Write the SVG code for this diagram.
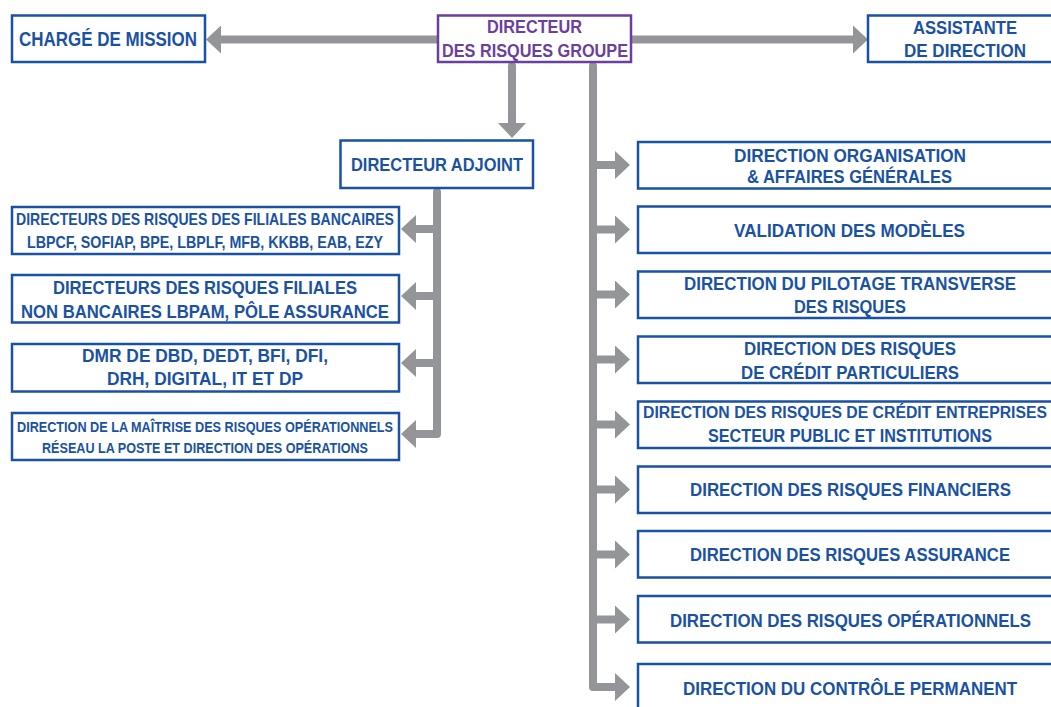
<svg xmlns="http://www.w3.org/2000/svg" width="1051" height="707" viewBox="0 0 1051 707">
<defs>
<marker id="ah" viewBox="0 0 15 28" markerWidth="15" markerHeight="28" refX="0" refY="14" orient="auto" markerUnits="userSpaceOnUse">
<path d="M0,0 L15,14 L0,28 Z" fill="#939598"/>
</marker>
<style>
.c{fill:none;stroke:#939598;stroke-width:8;stroke-linecap:round;stroke-linejoin:round}
.a{marker-end:url(#ah)}
.b{fill:#ffffff;stroke:#1a52a3;stroke-width:2.5}
.p{fill:#ffffff;stroke:#6b3fa0;stroke-width:2.5}
text{font-family:"Liberation Sans",Arial,sans-serif;font-weight:bold;fill:#1a52a3;font-size:18px}
.tp{fill:#6b3fa0;font-size:17.5px}
.s1{font-size:19.5px}
.s2{font-size:16.5px}
.s3{font-size:17.5px}
.s4{font-size:15.5px}
.s5{font-size:16px}
</style>
</defs>
<rect width="1051" height="707" fill="#ffffff"/>
<g id="connectors">
<path class="c a" d="M441,39.5 H221"/>
<path class="c a" d="M628,39.5 H853"/>
<path class="c a" d="M512,66 V123"/>
<path class="c" d="M593,66 V640"/>
<path class="c a" d="M593,640 V687 H615"/>
<path class="c a" d="M593,165 H615"/>
<path class="c a" d="M593,229.5 H615"/>
<path class="c a" d="M593,294.5 H615"/>
<path class="c a" d="M593,359.5 H615"/>
<path class="c a" d="M593,424.5 H615"/>
<path class="c a" d="M593,489.5 H615"/>
<path class="c a" d="M593,554.5 H615"/>
<path class="c a" d="M593,619.5 H615"/>
<path class="c a" d="M437,192 V434 H416"/>
<path class="c a" d="M437,229 H416"/>
<path class="c a" d="M437,296 H416"/>
<path class="c a" d="M437,363 H416"/>
</g>
<g id="charge-mission">
<rect class="b" x="12" y="15.5" width="193" height="46.5"/>
<text class="s1" x="19" y="46" textLength="178" lengthAdjust="spacingAndGlyphs">CHARGÉ DE MISSION</text>
</g>
<g id="directeur-risques-groupe">
<rect class="p" x="438" y="15.5" width="193" height="46.5"/>
<text class="tp" x="487" y="33" textLength="95" lengthAdjust="spacingAndGlyphs">DIRECTEUR</text>
<text class="tp" x="442" y="57" textLength="186" lengthAdjust="spacingAndGlyphs">DES RISQUES GROUPE</text>
</g>
<g id="assistante-direction">
<rect class="b" x="868" y="15.5" width="194" height="46.5"/>
<text class="s3" x="913" y="34" textLength="104" lengthAdjust="spacingAndGlyphs">ASSISTANTE</text>
<text class="s3" x="904" y="57" textLength="122" lengthAdjust="spacingAndGlyphs">DE DIRECTION</text>
</g>
<g id="directeur-adjoint">
<rect class="b" x="340.5" y="140.5" width="192.5" height="47.5"/>
<text x="351" y="171" textLength="172" lengthAdjust="spacingAndGlyphs">DIRECTEUR ADJOINT</text>
</g>
<g id="filiales-bancaires">
<rect class="b" x="12" y="207" width="387" height="47"/>
<text class="s2" x="16" y="225" textLength="378" lengthAdjust="spacingAndGlyphs">DIRECTEURS DES RISQUES DES FILIALES BANCAIRES</text>
<text class="s2" x="27" y="248" textLength="356" lengthAdjust="spacingAndGlyphs">LBPCF, SOFIAP, BPE, LBPLF, MFB, KKBB, EAB, EZY</text>
</g>
<g id="filiales-non-bancaires">
<rect class="b" x="12" y="275" width="387" height="47.5"/>
<text class="s3" x="53" y="294" textLength="304" lengthAdjust="spacingAndGlyphs">DIRECTEURS DES RISQUES FILIALES</text>
<text class="s3" x="21" y="318" textLength="368" lengthAdjust="spacingAndGlyphs">NON BANCAIRES LBPAM, PÔLE ASSURANCE</text>
</g>
<g id="dmr">
<rect class="b" x="12" y="344" width="387" height="47.5"/>
<text class="s3" x="82" y="362" textLength="246" lengthAdjust="spacingAndGlyphs">DMR DE DBD, DEDT, BFI, DFI,</text>
<text class="s3" x="107" y="385" textLength="196" lengthAdjust="spacingAndGlyphs">DRH, DIGITAL, IT ET DP</text>
</g>
<g id="maitrise-risques-op">
<rect class="b" x="12" y="413" width="387" height="47"/>
<text class="s4" x="17" y="432" textLength="376" lengthAdjust="spacingAndGlyphs">DIRECTION DE LA MAÎTRISE DES RISQUES OPÉRATIONNELS</text>
<text class="s4" x="42" y="453" textLength="326" lengthAdjust="spacingAndGlyphs">RÉSEAU LA POSTE ET DIRECTION DES OPÉRATIONS</text>
</g>
<g id="organisation">
<rect class="b" x="638" y="142" width="424" height="46.5"/>
<text x="734" y="162" textLength="232" lengthAdjust="spacingAndGlyphs">DIRECTION ORGANISATION</text>
<text x="747" y="183" textLength="205" lengthAdjust="spacingAndGlyphs">&amp; AFFAIRES GÉNÉRALES</text>
</g>
<g id="validation-modeles">
<rect class="b" x="638" y="206.5" width="424" height="46.5"/>
<text x="734" y="236.5" textLength="231" lengthAdjust="spacingAndGlyphs">VALIDATION DES MODÈLES</text>
</g>
<g id="pilotage-transverse">
<rect class="b" x="638" y="271.5" width="424" height="46.5"/>
<text x="684" y="290" textLength="332" lengthAdjust="spacingAndGlyphs">DIRECTION DU PILOTAGE TRANSVERSE</text>
<text x="794" y="313" textLength="112" lengthAdjust="spacingAndGlyphs">DES RISQUES</text>
</g>
<g id="credit-particuliers">
<rect class="b" x="638" y="336.5" width="424" height="46.5"/>
<text x="744" y="355" textLength="212" lengthAdjust="spacingAndGlyphs">DIRECTION DES RISQUES</text>
<text x="741" y="379" textLength="218" lengthAdjust="spacingAndGlyphs">DE CRÉDIT PARTICULIERS</text>
</g>
<g id="credit-entreprises">
<rect class="b" x="638" y="401.5" width="424" height="46.5"/>
<text class="s5" x="643" y="418" textLength="404" lengthAdjust="spacingAndGlyphs">DIRECTION DES RISQUES DE CRÉDIT ENTREPRISES</text>
<text x="708" y="442" textLength="284" lengthAdjust="spacingAndGlyphs">SECTEUR PUBLIC ET INSTITUTIONS</text>
</g>
<g id="risques-financiers">
<rect class="b" x="638" y="466.5" width="424" height="46.5"/>
<text x="690" y="496" textLength="321" lengthAdjust="spacingAndGlyphs">DIRECTION DES RISQUES FINANCIERS</text>
</g>
<g id="risques-assurance">
<rect class="b" x="638" y="531" width="424" height="46.5"/>
<text x="690" y="560.5" textLength="320" lengthAdjust="spacingAndGlyphs">DIRECTION DES RISQUES ASSURANCE</text>
</g>
<g id="risques-operationnels">
<rect class="b" x="638" y="596" width="424" height="46.5"/>
<text class="s3" x="670" y="626.5" textLength="361" lengthAdjust="spacingAndGlyphs">DIRECTION DES RISQUES OPÉRATIONNELS</text>
</g>
<g id="controle-permanent">
<rect class="b" x="638" y="664" width="424" height="50"/>
<text x="683" y="695" textLength="334" lengthAdjust="spacingAndGlyphs">DIRECTION DU CONTRÔLE PERMANENT</text>
</g>
</svg>
